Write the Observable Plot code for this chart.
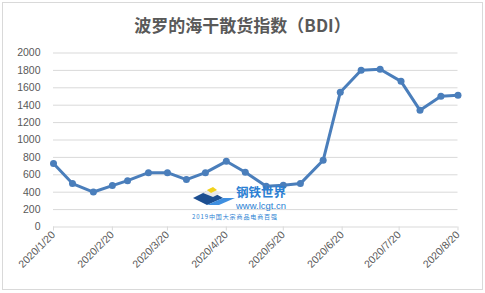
<!DOCTYPE html>
<html>
<head>
<meta charset="utf-8">
<script src="https://cdn.jsdelivr.net/npm/d3@7"></script>
<script src="https://cdn.jsdelivr.net/npm/@observablehq/plot@0.6"></script>
<style>
  html, body { margin: 0; padding: 0; background: #fff; }
  #wrap { position: relative; width: 485px; height: 293px; overflow: hidden; }
  #frame { position: absolute; left: 2px; top: 2px; width: 481px; height: 288px; border: 1px solid #d9d9d9; box-sizing: border-box; }
  #title { position: absolute; left: 0; top: 15px; width: 485px; text-align: center; font: bold 17px "Noto Sans CJK SC", sans-serif; color: #595959; line-height: 20px; }
  #chart { position: absolute; left: 0; top: 36px; }
  #wm { position: absolute; left: 190px; top: 180px; overflow: visible; }
</style>
</head>
<body>
<div id="wrap">
  <div id="frame"></div>
  <div id="title">波罗的海干散货指数（BDI）</div>
  <div id="chart"></div>
  <svg id="wm" width="100" height="42">
    <polygon points="3,18 19,10 33,18 17,25" fill="#1d4f91"/>
    <polygon points="17,25 33,18 45,18 29,25" fill="#3f8fe0"/>
    <polygon points="13,13 21,8 31,13 23,17" fill="#e8e8e8"/>
    <polygon points="17,10 23,7 27,10 21,13" fill="#f2d21b"/>
    <text x="46" y="17" fill="#2b7fd3" font-family="Noto Sans CJK SC" font-weight="bold" font-size="12.5">钢铁世界</text>
    <text x="46" y="29" fill="#2b7fd3" font-family="Liberation Sans" font-size="9.5">www.lcgt.cn</text>
    <text x="2" y="38.5" fill="#2b7fd3" font-family="Noto Sans CJK SC" font-size="6" letter-spacing="0.9">2019中国大宗商品电商百强</text>
  </svg>
</div>
<script>
const dates = ["2020-01-20","2020-01-30","2020-02-10","2020-02-20","2020-02-28","2020-03-10","2020-03-20","2020-03-30","2020-04-09","2020-04-20","2020-04-30","2020-05-11","2020-05-20","2020-05-29","2020-06-10","2020-06-19","2020-06-30","2020-07-10","2020-07-21","2020-07-31","2020-08-11","2020-08-20"];
const bdi = [729,499,402,476,533,625,625,545,625,755,630,468,479,499,767,1548,1801,1813,1674,1341,1502,1514];
const xTickLabels = ["2020/1/20","2020/2/20","2020/3/20","2020/4/20","2020/5/20","2020/6/20","2020/7/20","2020/8/20"];
const yTicks = [0,200,400,600,800,1000,1200,1400,1600,1800,2000];

const parse = s => { const [y,m,d] = s.split(/[-\/]/).map(Number); return new Date(Date.UTC(y, m-1, d)); };
const data = dates.map((d, i) => ({date: parse(d), value: bdi[i]}));
const xTicks = xTickLabels.map(parse);
const fmt = d => `${d.getUTCFullYear()}/${d.getUTCMonth()+1}/${d.getUTCDate()}`;

const chart = Plot.plot({
  width: 485,
  height: 257,
  marginTop: 16.5,
  marginBottom: 66.5,
  marginLeft: 53,
  marginRight: 27.5,
  style: {fontFamily: "Liberation Sans, sans-serif", fontSize: "10.5px", color: "#595959", background: "transparent"},
  x: {type: "utc", domain: [data[0].date, data[data.length-1].date], label: null},
  y: {domain: [0, 2000], label: null},
  marks: [
    Plot.gridY(yTicks, {stroke: "#d9d9d9", strokeOpacity: 1}),
    Plot.axisY(yTicks, {tickSize: 0, tickPadding: 13, fill: "#595959", fontSize: 10.5, tickFormat: d => String(d), label: null}),
    Plot.axisX(xTicks, {tickFormat: fmt, tickRotate: -45, tickSize: 4, tickPadding: 2, stroke: "#d9d9d9", fill: "#595959", fontSize: 10.5, label: null}),
    Plot.line(data, {x: "date", y: "value", stroke: "#4a7ebb", strokeWidth: 3}),
    Plot.dot(data, {x: "date", y: "value", fill: "#4a7ebb", r: 3.5})
  ]
});
document.getElementById("chart").appendChild(chart);
</script>
</body>
</html>
